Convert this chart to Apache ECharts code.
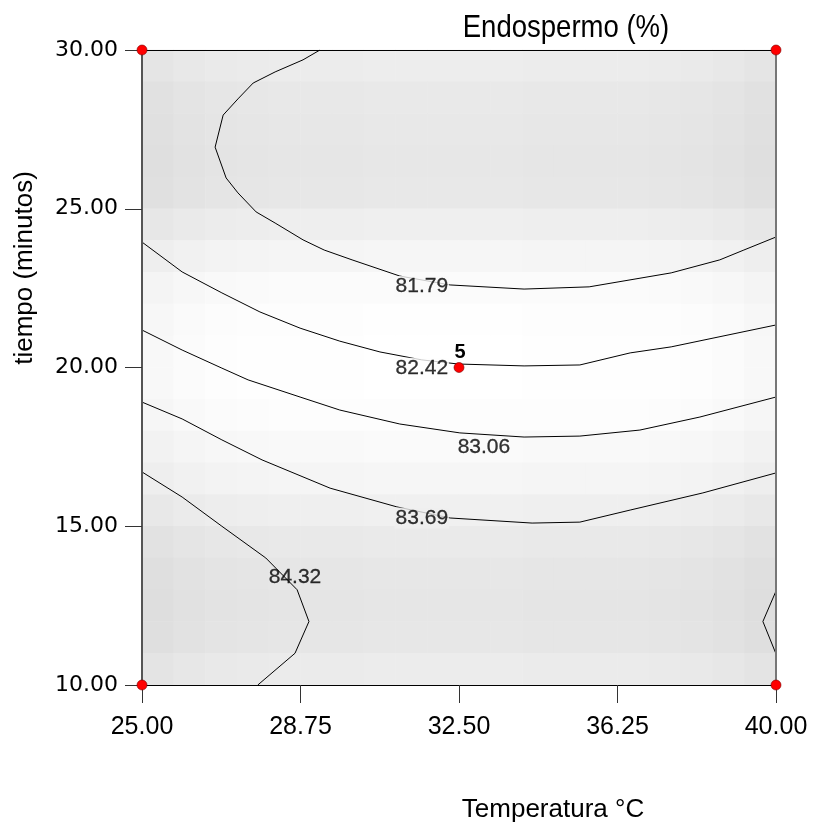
<!DOCTYPE html>
<html><head><meta charset="utf-8">
<script src="https://cdn.jsdelivr.net/npm/echarts@6/dist/echarts.min.js"></script>
<style>html,body{margin:0;padding:0;background:#fff}#c{width:814px;height:822px}</style>
</head><body><div id="c"></div>
<script>
// ---- axes ----
const xMin = 25, xMax = 40, xStep = 3.75;
const yMin = 10, yMax = 30, yStep = 5;
const titleText = 'Endospermo (%)';
const xTitle = 'Temperatura °C';
const yTitle = 'tiempo (minutos)';

// ---- contour lines [temperatura, tiempo] ----
const contour_81_79 = [[29.21,30],[28.81,29.69],[28.15,29.31],[27.63,28.96],[27.27,28.46],[26.92,27.95],[26.73,26.94],[26.99,25.97],[27.27,25.50],[27.70,24.90],[28.15,24.55],[28.81,24.02],[29.31,23.70],[29.97,23.39],[31.10,22.88],[32.29,22.60],[34.04,22.47],[35.58,22.54],[37.52,22.98],[38.67,23.39],[39.24,23.70],[40,24.11]];
const contour_82_42 = [[25,23.95],[25.95,23.01],[26.89,22.35],[27.79,21.75],[28.74,21.24],[29.68,20.83],[30.63,20.49],[31.62,20.24],[32.48,20.11],[34.04,20.05],[35.36,20.08],[36.55,20.46],[37.52,20.65],[40,21.34]];
const contour_83_06 = [[25,21.18],[25.95,20.55],[26.89,19.98],[27.51,19.61],[28.74,19.07],[29.68,18.66],[31.10,18.22],[32.52,17.94],[34.04,17.81],[35.36,17.84],[36.78,18.03],[38.20,18.44],[40,19.07]];
const contour_83_69 = [[25,18.91],[25.95,18.38],[26.89,17.72],[27.84,17.09],[29.45,16.20],[31.03,15.61],[32.29,15.26],[34.23,15.10],[35.36,15.13],[36.55,15.51],[38.27,16.05],[40,16.68]];
const contour_84_32a = [[25,16.71],[25.95,15.92],[26.89,15],[27.93,14],[28.67,13],[28.95,12],[28.62,11],[27.74,10]];
const contour_84_32b = [[40,12.96],[39.69,12],[40,10.98]];

// ---- contour labels ----
const labelTexts = ['81.79','82.42','83.06','83.69','84.32'];
const labelX = [31.62, 31.62, 33.09, 31.62, 28.62];
const labelY = [22.55, 19.98, 17.50, 15.26, 13.40];

// ---- design points ----
const ptX = [25, 40, 25, 40, 32.5];
const ptY = [30, 30, 10, 10, 20];
const ptTag = ['', '', '', '', '5'];

// ---- background shading (gray level), rows top -> bottom, 20 x 20 cells ----
const shadeRows = [
[229,232,234,235,236,236,236,237,237,237,237,237,236,236,236,236,235,234,232,229],
[225,228,230,231,232,232,232,233,233,233,233,233,232,232,232,232,231,230,228,225],
[224,227,229,230,231,231,231,232,232,232,232,232,231,231,231,231,230,229,227,224],
[223,226,228,229,230,230,230,231,231,231,231,231,230,230,230,230,229,228,226,223],
[224,227,229,230,231,231,231,232,232,232,232,232,231,231,231,231,230,229,227,224],
[231,234,236,237,238,238,238,239,239,239,239,239,238,238,238,238,237,236,234,231],
[238,241,243,244,245,245,245,246,246,246,246,246,245,245,245,245,244,243,241,238],
[244,247,249,250,251,251,251,251,251,251,251,251,251,251,251,251,250,249,247,244],
[247,250,252,253,253,253,253,254,254,254,254,254,253,253,253,253,253,252,250,247],
[248,251,253,254,254,254,254,255,255,255,255,255,254,254,254,254,254,253,251,248],
[248,251,253,254,254,254,254,255,255,255,255,255,254,254,254,254,254,253,251,248],
[246,249,251,252,253,253,253,253,253,253,253,253,253,253,253,253,252,251,249,246],
[242,245,247,248,249,249,249,250,250,250,250,250,249,249,249,249,248,247,245,242],
[238,241,243,244,245,245,245,246,246,246,246,246,245,245,245,245,244,243,241,238],
[232,235,237,238,239,239,239,240,240,240,240,240,239,239,239,239,238,237,235,232],
[226,229,231,232,233,233,233,234,234,234,234,234,233,233,233,233,232,231,229,226],
[223,226,228,229,230,230,230,231,231,231,231,231,230,230,230,230,229,228,226,223],
[222,225,227,228,229,229,229,230,230,230,230,230,229,229,229,229,228,227,225,222],
[223,226,228,229,230,230,230,231,231,231,231,231,230,230,230,230,229,228,226,223],
[228,231,233,234,235,235,235,236,236,236,236,236,235,235,235,235,234,233,231,228]
];

// ---- build option ----
const nR = shadeRows.length, nC = shadeRows[0].length;
const cats = n => Array.from({length:n}, (_, i) => String(i));
const heatData = [];
shadeRows.forEach((row, r) => row.forEach((v, c) => heatData.push([c, nR - 1 - r, v])));

const rect = {left:142, top:50, width:634, height:635};
const fmt = v => v.toFixed(2);
const lineStyle = {color:'#000', width:1};
const contours = [contour_81_79, contour_82_42, contour_83_06, contour_83_69, contour_84_32a, contour_84_32b];
const labelBg = {'81.79':'#fafafa','82.42':'#fefefe','83.69':'#efefef'};
const sans = 'Liberation Sans, Arial, sans-serif';

const option = {
  animation:false,
  backgroundColor:'#fff',
  grid:[Object.assign({}, rect), Object.assign({}, rect)],
  xAxis:[
    {type:'value', gridIndex:1, min:xMin, max:xMax, interval:xStep, z:10,
     axisLine:{show:true, lineStyle:{color:'#000', width:1}},
     axisTick:{show:true, inside:false, length:18, lineStyle:{color:'#333'}},
     axisLabel:{formatter:fmt, margin:30, fontFamily:sans, fontSize:25, color:'#000'},
     splitLine:{show:false}},
    {type:'value', gridIndex:1, position:'top', min:xMin, max:xMax, z:10,
     axisLine:{show:true, lineStyle:{color:'#000', width:1}},
     axisTick:{show:false}, axisLabel:{show:false}, splitLine:{show:false}},
    {type:'category', gridIndex:0, data:cats(nC), show:false}
  ],
  yAxis:[
    {type:'value', gridIndex:1, min:yMin, max:yMax, interval:yStep, z:10,
     axisLine:{show:true, lineStyle:{color:'#555', width:2}},
     axisTick:{show:true, inside:false, length:17, lineStyle:{color:'#333'}},
     axisLabel:{formatter:fmt, margin:24, fontFamily:'DejaVu Sans, sans-serif', fontSize:22, color:'#000'},
     splitLine:{show:false}},
    {type:'value', gridIndex:1, position:'right', min:yMin, max:yMax, z:10,
     axisLine:{show:true, lineStyle:{color:'#777', width:2}},
     axisTick:{show:false}, axisLabel:{show:false}, splitLine:{show:false}},
    {type:'category', gridIndex:0, data:cats(nR), show:false}
  ],
  visualMap:{show:false, type:'continuous', min:0, max:255, seriesIndex:0, inRange:{color:['#000000','#ffffff']}},
  series:[
    {type:'heatmap', xAxisIndex:2, yAxisIndex:2, data:heatData, itemStyle:{borderWidth:0}, emphasis:{disabled:true}},
    ...contours.map(d => ({type:'line', xAxisIndex:0, yAxisIndex:0, data:d, showSymbol:false, symbol:'none', lineStyle, z:5, silent:true})),
    {type:'scatter', xAxisIndex:0, yAxisIndex:0, symbolSize:0, z:8, silent:true,
     data:labelTexts.map((t, i) => ({value:[labelX[i], labelY[i]], name:t,
       label:{show:true, position:'inside', formatter:t, color:'#000', fontSize:21,
              fontFamily:sans, textBorderColor:'#000', textBorderWidth:0.3,
              backgroundColor: labelBg[t] || 'transparent', padding:[0,1]}}))},
    {type:'scatter', xAxisIndex:0, yAxisIndex:0, symbolSize:10, z:20, silent:true,
     itemStyle:{color:'#ff0000', borderColor:'#7a0000', borderWidth:0.6, opacity:1},
     data:ptX.map((x, i) => ({value:[x, ptY[i]], name:ptTag[i],
       label:{show:ptTag[i] !== '', position:'top', distance:0, offset:[1,0], formatter:ptTag[i],
              fontWeight:'bold', fontSize:20, color:'#000', fontFamily:sans}}))}
  ],
  graphic:[
    {type:'text', x:566, y:28, scaleX:0.86, z:100, style:{text:titleText, textAlign:'center', textVerticalAlign:'middle',
      fontSize:32, fontFamily:sans, fill:'#000'}},
    {type:'text', x:553, y:810, z:100, style:{text:xTitle, textAlign:'center', textVerticalAlign:'middle',
      fontSize:26, fontFamily:sans, fill:'#000'}},
    {type:'text', x:25, y:268, rotation:Math.PI/2, z:100, style:{text:yTitle, textAlign:'center', textVerticalAlign:'middle',
      fontSize:26, fontFamily:sans, fill:'#000'}}
  ]
};
const chart = echarts.init(document.getElementById('c'), null, {renderer:'canvas'});
chart.setOption(option);
</script></body></html>
